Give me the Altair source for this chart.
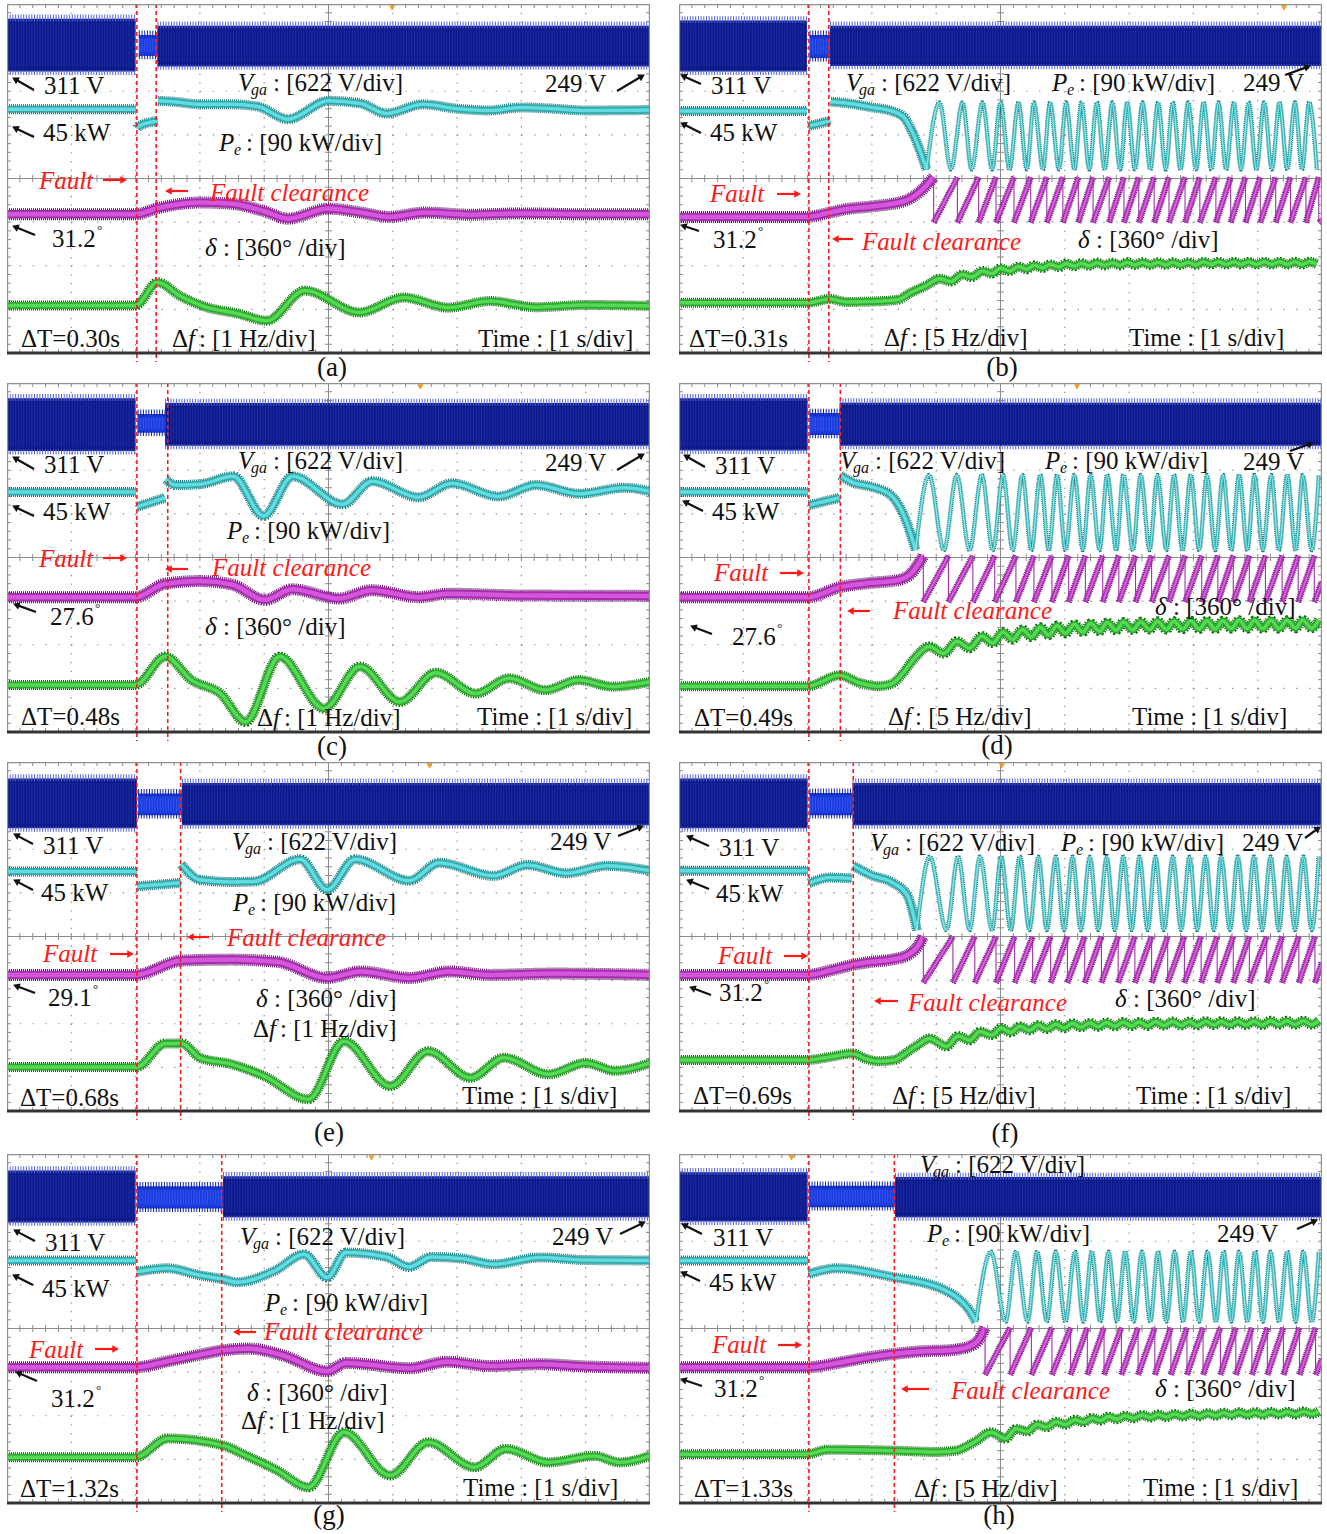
import math
import altair as alt
import pandas as pd

# ------------------------------------------------------------------
# Scope screens: 10 x 8 divisions, time base 1 s/div
# ------------------------------------------------------------------
W, H = 643, 349
XDIV, YDIV = 10, 8
FONT = "Liberation Serif"
RED = "#ff1a1a"
FAULT_T = 2.02

# ---------------- (a) stable, dT = 0.30 s ----------------
A_DT = 0.30
A_DEG = "31.2"
A_CURSOR = 5.99
A_VGA = [(0.00, 2.00, 7.66, 6.45), (2.05, 2.34, 7.29, 6.81), (2.34, 10.00, 7.50, 6.57)]
A_PE = [
    [(0.0, 5.59), (2.0, 5.59)],
    [(2.02, 5.15), (2.05, 5.20), (2.34, 5.32)],
    [(2.35, 5.78), (2.6, 5.76), (3.0, 5.70), (3.5, 5.70), (3.9, 5.65), (4.37, 5.36), (5.0, 5.78),
     (5.5, 5.72), (5.9, 5.49), (6.47, 5.70), (7.0, 5.60), (7.5, 5.56), (8.0, 5.63), (8.5, 5.60),
     (9.0, 5.56), (10.0, 5.57)],
]
A_DELTA = [(0.0, 3.18), (2.0, 3.18), (2.34, 3.32), (3.0, 3.45), (3.5, 3.42), (4.0, 3.25), (4.37, 3.08),
           (5.0, 3.31), (5.5, 3.22), (5.94, 3.12), (6.5, 3.22), (7.2, 3.17), (8.0, 3.20), (9.0, 3.18),
           (10.0, 3.18)]
A_DF = [(0.0, 1.09), (2.0, 1.09), (2.34, 1.62), (2.7, 1.30), (3.06, 1.07), (3.6, 0.90), (4.04, 0.74),
        (4.63, 1.43), (5.48, 0.93), (6.17, 1.27), (6.86, 1.04), (7.51, 1.19), (8.23, 1.05), (9.0, 1.10),
        (10.0, 1.08)]

# ---------------- (b) unstable, dT = 0.31 s ----------------
B_DT = 0.31
B_DEG = "31.2"
B_CURSOR = 9.41
B_VGA = [(0.00, 1.99, 7.62, 6.45), (2.03, 2.35, 7.29, 6.76), (2.35, 10.00, 7.50, 6.58)]
B_PE = [
    [(0.0, 5.55), (1.99, 5.55)],
    [(2.01, 5.20), (2.35, 5.32)],
    [(2.36, 5.76), (2.6, 5.73), (3.0, 5.63), (3.3, 5.55), (3.5, 5.40), (3.65, 5.00), (3.85, 4.21)],
]
B_SWING_T = [3.85, 4.05, 4.23, 4.41, 4.55, 4.72, 4.87, 5.00, 5.14, 5.28,
             5.41, 5.52, 5.66, 5.77, 5.91, 6.02, 6.15, 6.26, 6.38, 6.50,
             6.62, 6.74, 6.86, 6.97, 7.09, 7.21, 7.33, 7.45, 7.57, 7.68,
             7.80, 7.92, 8.04, 8.16, 8.28, 8.39, 8.51, 8.63, 8.74, 8.86,
             8.98, 9.10, 9.22, 9.34, 9.46, 9.58, 9.69, 9.80, 9.92]
B_PE_LEVELS = (5.74, 4.21)
B_DELTA = [(0.0, 3.12), (1.99, 3.12), (2.35, 3.22), (2.6, 3.30), (3.0, 3.36), (3.5, 3.48), (3.75, 3.70),
           (3.96, 4.03)]
B_WRAP_T = [3.96, 4.33, 4.66, 4.93, 5.21, 5.47, 5.72, 5.97, 6.21, 6.44, 6.69, 6.92, 7.15, 7.39,
            7.62, 7.87, 8.10, 8.35, 8.58, 8.81, 9.04, 9.28, 9.51, 9.75, 9.95]
B_DELTA_LEVELS = (4.03, 2.99)
B_DELTA_END = 3.05
B_DF = [(0.0, 1.15), (1.99, 1.15), (2.35, 1.24), (2.6, 1.17), (3.0, 1.18), (3.4, 1.22), (3.6, 1.38)]
B_DF_SWING = [1.55, 1.70, 1.64, 1.80, 1.74, 1.88, 1.82, 1.94, 1.88, 1.98,
              1.92, 2.01, 1.95, 2.03, 1.97, 2.05, 1.99, 2.06, 2.00, 2.07,
              2.01, 2.07, 2.01, 2.08, 2.02, 2.08, 2.02, 2.08, 2.02, 2.08,
              2.02, 2.08, 2.02, 2.09, 2.03, 2.09, 2.03, 2.09, 2.03, 2.09,
              2.03, 2.09, 2.03, 2.09, 2.03, 2.09, 2.03, 2.09, 2.04]

# ---------------- (c) stable, dT = 0.48 s ----------------
C_DT = 0.48
C_DEG = "27.6"
C_CURSOR = 6.43
C_VGA = [(0.00, 2.00, 7.65, 6.44), (2.03, 2.46, 7.29, 6.86), (2.46, 10.00, 7.54, 6.56)]
C_PE = [
    [(0.0, 5.50), (2.0, 5.50)],
    [(2.02, 5.16), (2.46, 5.37)],
    [(2.47, 5.79), (2.62, 5.66), (3.0, 5.68), (3.52, 5.86), (3.99, 4.95), (4.44, 5.86), (5.22, 5.22),
     (5.68, 5.75), (6.40, 5.38), (6.92, 5.70), (7.64, 5.40), (8.23, 5.66), (8.9, 5.46), (9.6, 5.60),
     (10.0, 5.52)],
]
C_DELTA = [(0.0, 3.09), (2.0, 3.09), (2.46, 3.40), (3.0, 3.46), (3.5, 3.38), (4.01, 3.03), (4.44, 3.27),
           (5.16, 3.06), (5.68, 3.25), (6.4, 3.09), (6.86, 3.17), (8.0, 3.13), (10.0, 3.12)]
C_DF = [(0.0, 1.08), (2.0, 1.08), (2.46, 1.73), (2.87, 1.19), (3.32, 0.88), (3.71, 0.23), (4.24, 1.73),
        (4.93, 0.54), (5.49, 1.50), (6.11, 0.69), (6.67, 1.36), (7.29, 0.88), (7.81, 1.23), (8.37, 0.96),
        (8.89, 1.19), (9.42, 1.04), (10.0, 1.15)]

# ---------------- (d) unstable, dT = 0.49 s ----------------
D_DT = 0.49
D_DEG = "27.6"
D_CURSOR = 6.19
D_VGA = [(0.00, 2.00, 7.65, 6.45), (2.03, 2.50, 7.31, 6.81), (2.50, 10.00, 7.55, 6.56)]
D_PE = [
    [(0.0, 5.50), (2.0, 5.50)],
    [(2.02, 5.20), (2.5, 5.37)],
    [(2.51, 5.88), (2.7, 5.72), (3.0, 5.62), (3.3, 5.42), (3.53, 4.85), (3.68, 4.17)],
]
D_SWING_T = [3.68, 3.89, 4.12, 4.32, 4.52, 4.71, 4.88, 5.04, 5.19, 5.34,
             5.48, 5.62, 5.75, 5.88, 6.01, 6.15, 6.28, 6.40, 6.54, 6.66,
             6.80, 6.91, 7.06, 7.18, 7.32, 7.44, 7.58, 7.70, 7.83, 7.96,
             8.09, 8.21, 8.34, 8.46, 8.59, 8.71, 8.84, 8.95, 9.08, 9.21,
             9.33, 9.46, 9.59, 9.70, 9.84, 9.95]
D_PE_LEVELS = (5.89, 4.17)
D_DELTA = [(0.0, 3.09), (2.0, 3.09), (2.5, 3.32), (3.0, 3.42), (3.4, 3.48), (3.62, 3.65), (3.80, 4.04)]
D_WRAP_T = [3.80, 4.19, 4.57, 4.91, 5.24, 5.52, 5.80, 6.06, 6.32, 6.59, 6.84, 7.10, 7.35, 7.62,
            7.87, 8.13, 8.38, 8.62, 8.87, 9.12, 9.38, 9.63, 9.88]
D_DELTA_LEVELS = (4.04, 2.98)
D_DELTA_END = 3.45
D_DF = [(0.0, 1.05), (2.0, 1.05), (2.5, 1.30), (2.8, 1.13), (3.1, 1.05), (3.3, 1.10), (3.5, 1.38),
        (3.6, 1.58)]
D_DF_SWING = [1.72, 1.96, 1.80, 2.08, 1.92, 2.20, 2.04, 2.29, 2.12, 2.35,
              2.18, 2.40, 2.22, 2.44, 2.26, 2.47, 2.29, 2.49, 2.31, 2.51,
              2.33, 2.52, 2.34, 2.53, 2.35, 2.54, 2.35, 2.54, 2.36, 2.55,
              2.36, 2.55, 2.36, 2.55, 2.37, 2.56, 2.37, 2.56, 2.37, 2.56,
              2.37, 2.56, 2.38, 2.57, 2.38, 2.57]

# ---------------- (e) stable, dT = 0.68 s ----------------
E_DT = 0.68
E_DEG = "29.1"
E_CURSOR = 6.57
E_VGA = [(0.00, 2.02, 7.62, 6.48), (2.04, 2.72, 7.28, 6.78), (2.72, 10.00, 7.52, 6.55)]
E_PE = [
    [(0.0, 5.49), (2.02, 5.49)],
    [(2.03, 5.15), (2.7, 5.23)],
    [(2.71, 5.65), (3.0, 5.30), (3.5, 5.25), (3.84, 5.26), (4.56, 5.77), (4.98, 5.07), (5.41, 5.77),
     (6.26, 5.28), (6.72, 5.69), (7.57, 5.39), (8.09, 5.64), (8.7, 5.45), (9.33, 5.62), (10.0, 5.51)],
]
E_DELTA = [(0.0, 3.12), (2.0, 3.12), (2.72, 3.45), (3.5, 3.47), (4.2, 3.42), (4.98, 3.05), (5.5, 3.20),
           (6.26, 3.05), (6.88, 3.20), (7.5, 3.12), (8.5, 3.15), (10.0, 3.12)]
E_DF = [(0.0, 1.01), (2.02, 1.01), (2.46, 1.55), (2.72, 1.55), (3.0, 1.22), (3.5, 1.07), (4.0, 0.80),
        (4.69, 0.27), (5.24, 1.60), (5.96, 0.57), (6.55, 1.37), (7.21, 0.76), (7.73, 1.22), (8.42, 0.84),
        (9.0, 1.10), (9.46, 0.92), (10.0, 1.10)]

# ---------------- (f) unstable, dT = 0.69 s ----------------
F_DT = 0.69
F_DEG = "31.2"
F_CURSOR = 5.02
F_VGA = [(0.00, 2.00, 7.62, 6.48), (2.03, 2.70, 7.29, 6.78), (2.70, 10.00, 7.52, 6.55)]
F_PE = [
    [(0.0, 5.51), (2.0, 5.51)],
    [(2.02, 5.22), (2.35, 5.35), (2.69, 5.33)],
    [(2.71, 5.62), (3.0, 5.40), (3.3, 5.25), (3.55, 4.95), (3.70, 4.15)],
]
F_SWING_T = [3.70, 3.90, 4.16, 4.34, 4.52, 4.68, 4.87, 5.01, 5.16, 5.30,
             5.45, 5.59, 5.72, 5.86, 5.99, 6.12, 6.25, 6.39, 6.52, 6.65,
             6.78, 6.91, 7.04, 7.16, 7.29, 7.41, 7.54, 7.68, 7.81, 7.94,
             8.06, 8.19, 8.32, 8.43, 8.57, 8.69, 8.82, 8.94, 9.07, 9.20,
             9.33, 9.45, 9.58, 9.71, 9.84, 9.95]
F_PE_LEVELS = (5.83, 4.15)
F_DELTA = [(0.0, 3.12), (2.0, 3.12), (2.35, 3.22), (2.7, 3.35), (3.0, 3.42), (3.3, 3.47), (3.55, 3.57),
           (3.7, 3.75), (3.80, 4.00)]
F_WRAP_T = [3.80, 4.26, 4.60, 4.93, 5.22, 5.50, 5.78, 6.04, 6.31, 6.57, 6.83, 7.09, 7.35, 7.60,
            7.86, 8.12, 8.37, 8.62, 8.87, 9.14, 9.38, 9.64, 9.89]
F_DELTA_LEVELS = (4.00, 2.94)
F_DELTA_END = 3.40
F_DF = [(0.0, 1.17), (2.0, 1.17), (2.35, 1.24), (2.7, 1.32), (2.9, 1.20), (3.1, 1.14), (3.35, 1.17),
        (3.55, 1.35)]
F_DF_SWING = [1.50, 1.66, 1.48, 1.72, 1.62, 1.82, 1.74, 1.90, 1.80, 1.94,
              1.85, 1.97, 1.88, 1.99, 1.90, 2.01, 1.92, 2.02, 1.93, 2.03,
              1.94, 2.04, 1.95, 2.04, 1.95, 2.05, 1.96, 2.05, 1.96, 2.05,
              1.96, 2.06, 1.97, 2.06, 1.97, 2.06, 1.97, 2.06, 1.97, 2.07,
              1.98, 2.07, 1.98, 2.07, 1.98, 2.07]

# ---------------- (g) stable, dT = 1.32 s ----------------
G_DT = 1.32
G_DEG = "31.2"
G_CURSOR = 5.67
G_VGA = [(0.00, 2.00, 7.62, 6.43), (2.02, 3.36, 7.26, 6.75), (3.36, 10.00, 7.49, 6.55)]
G_PE = [
    [(0.0, 5.56), (2.0, 5.56)],
    [(2.02, 5.30), (2.5, 5.38), (3.0, 5.22), (3.36, 5.13), (3.57, 5.06), (4.16, 5.32), (4.62, 5.70),
     (4.98, 5.17), (5.27, 5.74), (5.9, 5.64), (6.25, 5.41), (6.6, 5.64), (7.1, 5.60), (7.56, 5.47),
     (8.29, 5.63), (9.0, 5.57), (10.0, 5.56)],
]
G_DELTA = [(0.0, 3.11), (2.0, 3.11), (2.5, 3.25), (3.0, 3.40), (3.36, 3.50), (3.77, 3.54), (4.3, 3.38),
           (4.98, 3.02), (5.27, 3.21), (6.26, 3.09), (6.85, 3.24), (7.5, 3.14), (8.3, 3.18), (9.0, 3.13),
           (10.0, 3.10)]
G_DF = [(0.0, 1.05), (2.0, 1.05), (2.5, 1.48), (3.36, 1.32), (3.7, 1.10), (4.2, 0.75), (4.69, 0.36),
        (5.24, 1.62), (5.96, 0.63), (6.55, 1.39), (7.27, 0.82), (7.76, 1.24), (8.42, 0.93), (9.14, 1.08),
        (9.53, 0.93), (10.0, 1.08)]

# ---------------- (h) unstable, dT = 1.33 s ----------------
H_DT = 1.33
H_DEG = "31.2"
H_CURSOR = 1.75
H_VGA = [(0.00, 2.00, 7.58, 6.45), (2.02, 3.36, 7.27, 6.78), (3.36, 10.00, 7.47, 6.55)]
H_PE = [
    [(0.0, 5.56), (2.0, 5.56)],
    [(2.02, 5.25), (2.46, 5.38), (3.36, 5.17), (3.77, 5.06), (4.09, 4.91), (4.35, 4.68), (4.52, 4.41),
     (4.62, 4.16)],
]
H_SWING_T = [4.62, 4.85, 5.08, 5.24, 5.42, 5.57, 5.72, 5.86, 6.01, 6.16,
             6.29, 6.42, 6.55, 6.68, 6.81, 6.94, 7.07, 7.20, 7.33, 7.45,
             7.58, 7.71, 7.84, 7.96, 8.09, 8.22, 8.35, 8.47, 8.59, 8.71,
             8.84, 8.96, 9.08, 9.20, 9.33, 9.46, 9.59, 9.71, 9.84, 9.95]
H_PE_LEVELS = (5.76, 4.16)
H_DELTA = [(0.0, 3.11), (2.0, 3.11), (2.5, 3.22), (3.0, 3.35), (3.36, 3.42), (3.8, 3.48), (4.2, 3.50),
           (4.5, 3.58), (4.65, 3.72), (4.76, 4.02)]
H_WRAP_T = [4.76, 5.15, 5.48, 5.80, 6.09, 6.35, 6.61, 6.88, 7.14, 7.40, 7.65, 7.90, 8.15, 8.42,
            8.66, 8.91, 9.15, 9.40, 9.65, 9.90]
H_DELTA_LEVELS = (4.02, 2.94)
H_DELTA_END = 3.30
H_DF = [(0.0, 1.12), (2.0, 1.12), (2.3, 1.22), (3.36, 1.20), (4.0, 1.17), (4.3, 1.20), (4.5, 1.32)]
H_DF_SWING = [1.42, 1.62, 1.48, 1.70, 1.64, 1.80, 1.74, 1.86, 1.80, 1.91,
              1.85, 1.95, 1.89, 1.98, 1.92, 2.00, 1.94, 2.02, 1.96, 2.03,
              1.97, 2.04, 1.98, 2.05, 1.99, 2.06, 2.00, 2.07, 2.01, 2.08,
              2.02, 2.08, 2.02, 2.09, 2.03, 2.09, 2.03, 2.10, 2.04, 2.10]

PANELS = {
    "a": dict(dt=A_DT, deg=A_DEG, df_scale="1 Hz", cursor=A_CURSOR, vga=A_VGA, pe=A_PE,
              delta=A_DELTA, df=A_DF),
    "b": dict(dt=B_DT, deg=B_DEG, df_scale="5 Hz", cursor=B_CURSOR, vga=B_VGA, pe=B_PE,
              swing_t=B_SWING_T, pe_levels=B_PE_LEVELS, delta=B_DELTA, wrap_t=B_WRAP_T,
              delta_levels=B_DELTA_LEVELS, delta_end=B_DELTA_END, df=B_DF, df_swing=B_DF_SWING),
    "c": dict(dt=C_DT, deg=C_DEG, df_scale="1 Hz", cursor=C_CURSOR, vga=C_VGA, pe=C_PE,
              delta=C_DELTA, df=C_DF),
    "d": dict(dt=D_DT, deg=D_DEG, df_scale="5 Hz", cursor=D_CURSOR, vga=D_VGA, pe=D_PE,
              swing_t=D_SWING_T, pe_levels=D_PE_LEVELS, delta=D_DELTA, wrap_t=D_WRAP_T,
              delta_levels=D_DELTA_LEVELS, delta_end=D_DELTA_END, df=D_DF, df_swing=D_DF_SWING),
    "e": dict(dt=E_DT, deg=E_DEG, df_scale="1 Hz", cursor=E_CURSOR, vga=E_VGA, pe=E_PE,
              delta=E_DELTA, df=E_DF),
    "f": dict(dt=F_DT, deg=F_DEG, df_scale="5 Hz", cursor=F_CURSOR, vga=F_VGA, pe=F_PE,
              swing_t=F_SWING_T, pe_levels=F_PE_LEVELS, delta=F_DELTA, wrap_t=F_WRAP_T,
              delta_levels=F_DELTA_LEVELS, delta_end=F_DELTA_END, df=F_DF, df_swing=F_DF_SWING),
    "g": dict(dt=G_DT, deg=G_DEG, df_scale="1 Hz", cursor=G_CURSOR, vga=G_VGA, pe=G_PE,
              delta=G_DELTA, df=G_DF),
    "h": dict(dt=H_DT, deg=H_DEG, df_scale="5 Hz", cursor=H_CURSOR, vga=H_VGA, pe=H_PE,
              swing_t=H_SWING_T, pe_levels=H_PE_LEVELS, delta=H_DELTA, wrap_t=H_WRAP_T,
              delta_levels=H_DELTA_LEVELS, delta_end=H_DELTA_END, df=H_DF, df_swing=H_DF_SWING),
}

# Annotation placement inside each screen (pixels from the screen's top-left corner)
K, R = "#111111", RED
LAYOUT = {
    "a": dict(v311=(37, 82), kw45=(36, 129), deg=(45, 235), v249=(538, 80), vga=(231, 79), pe=(212, 139),
              fault=(32, 177), clear=(203, 189), delta=(198, 244), dt=(14, 335), df=(165, 335),
              time=(471, 335), tag=(325, 364),
              arrows=[((27, 86), (6, 74), K), ((27, 133), (6, 123), K), ((28, 231), (6, 222), K),
                      ((610, 87), (637, 71), K), ((96, 176), (119, 176), R), ((181, 187), (159, 187), R)]),
    "b": dict(v311=(32, 82), kw45=(31, 129), deg=(34, 236), v249=(564, 79), vga=(167, 79), pe=(373, 79),
              fault=(31, 190), clear=(183, 238), delta=(399, 236), dt=(10, 335), df=(205, 334),
              time=(450, 334), tag=(323, 364),
              arrows=[((22, 80), (2, 71), K), ((22, 129), (2, 119), K), ((20, 227), (2, 221), K),
                      ((606, 71), (631, 62), K), ((98, 190), (121, 190), R), ((174, 235), (154, 235), R)]),
    "c": dict(v311=(37, 82), kw45=(36, 129), deg=(43, 234), v249=(538, 80), vga=(231, 78), pe=(220, 148),
              fault=(32, 176), clear=(205, 185), delta=(198, 244), dt=(14, 334), df=(250, 335),
              time=(470, 334), tag=(325, 364),
              arrows=[((27, 86), (6, 74), K), ((27, 133), (6, 123), K), ((29, 229), (7, 221), K),
                      ((610, 87), (637, 71), K), ((96, 175), (119, 175), R), ((181, 186), (159, 186), R)]),
    "d": dict(v311=(36, 83), kw45=(33, 129), deg=(53, 254), v249=(564, 79), vga=(161, 78), pe=(366, 78),
              fault=(35, 190), clear=(214, 228), delta=(476, 224), dt=(15, 335), df=(209, 334),
              time=(453, 334), tag=(318, 363),
              arrows=[((26, 84), (5, 72), K), ((24, 128), (4, 118), K), ((33, 251), (12, 243), K),
                      ((611, 68), (634, 60), K), ((101, 190), (124, 190), R), ((191, 228), (169, 228), R)]),
    "e": dict(v311=(36, 84), kw45=(34, 131), deg=(41, 236), v249=(543, 80), vga=(225, 80), pe=(226, 141),
              fault=(36, 192), clear=(220, 176), delta=(249, 237), dt=(13, 336), df=(246, 267),
              time=(455, 334), tag=(322, 371),
              arrows=[((26, 82), (7, 72), K), ((26, 128), (7, 118), K), ((28, 231), (7, 223), K),
                      ((611, 74), (636, 64), K), ((103, 192), (126, 192), R), ((202, 175), (181, 175), R)]),
    "f": dict(v311=(40, 86), kw45=(37, 132), deg=(40, 231), v249=(563, 81), vga=(191, 81), pe=(382, 81),
              fault=(39, 194), clear=(229, 241), delta=(436, 237), dt=(14, 334), df=(213, 334),
              time=(457, 334), tag=(326, 372),
              arrows=[((30, 84), (8, 74), K), ((30, 127), (8, 118), K), ((32, 233), (11, 225), K),
                      ((626, 76), (641, 65), K), ((105, 194), (128, 194), R), ((219, 239), (196, 239), R)]),
    "g": dict(v311=(38, 89), kw45=(35, 135), deg=(44, 245), v249=(545, 83), vga=(233, 83), pe=(258, 149),
              fault=(22, 196), clear=(257, 178), delta=(240, 239), dt=(13, 335), df=(234, 267),
              time=(456, 334), tag=(322, 362),
              arrows=[((28, 87), (7, 76), K), ((26, 131), (6, 121), K), ((30, 227), (9, 218), K),
                      ((613, 80), (638, 68), K), ((88, 195), (111, 195), R), ((249, 178), (227, 178), R)]),
    "h": dict(v311=(34, 84), kw45=(30, 129), deg=(35, 235), v249=(538, 80), vga=(241, 11), pe=(248, 80),
              fault=(33, 191), clear=(272, 237), delta=(476, 235), dt=(15, 335), df=(235, 335),
              time=(464, 334), tag=(320, 362),
              arrows=[((23, 80), (3, 70), K), ((21, 127), (2, 118), K), ((23, 232), (2, 225), K),
                      ((618, 75), (638, 66), K), ((99, 191), (122, 191), R), ((250, 235), (223, 235), R)]),
}

# ---------------- styles ----------------
GRID_C = "#8c8c8c"
STYLE = {
    "pe":     dict(ow=10, oc="#1c7276", mw=7.0, mc="#2ea9ad", cw=3.5, cc="#62dcdf"),
    "pe_osc": dict(ow=4.5, oc="#1c7276", mw=3.0, mc="#36b4b8", cw=1.4, cc="#86e8ea"),
    "delta":  dict(ow=12, oc="#5e1265", mw=8.5, mc="#a82cb0", cw=4.5, cc="#d456da"),
    "tooth":  dict(ow=6.5, oc="#5e1265", mw=4.5, mc="#a82cb0", cw=2.0, cc="#d85ede"),
    "df":     dict(ow=10, oc="#136613", mw=7.0, mc="#28ad28", cw=3.5, cc="#58d858"),
}
VGA = {  # body, stripe texture, spiky fringe
    "normal": ("#0d1a8a", "#1b2ba2", "#5363db"),
    "fault": ("#1a3cdc", "#3456f0", "#0f22a0"),
}

GRID_T = [1, 2, 3, 4, 6, 7, 8, 9]
GRID_Y = [1, 2, 3, 5, 6, 7]
MINOR_T = [i / 5 for i in range(1, XDIV * 5)]
MINOR_Y = [i / 5 for i in range(1, YDIV * 5)]
X = alt.Scale(domain=[0, XDIV], nice=False, zero=False)


def px_t(px):
    return px * XDIV / W


def py_y(py):
    return YDIV - py * YDIV / H


def trace_table(p):
    rows = []

    def add(kind, key, pts):
        for t, y in pts:
            rows.append(dict(t=t, y=y, key=key, **STYLE[kind]))

    for i, seg in enumerate(p["pe"]):
        add("pe", f"pe{i}", seg)
    add("delta", "delta", p["delta"])
    df_pts = list(p["df"])
    drops = []
    if "swing_t" in p:
        hi, lo = p["pe_levels"]
        add("pe_osc", "pe_osc", [(t, lo if i % 2 == 0 else hi) for i, t in enumerate(p["swing_t"])])
        dhi, dlo = p["delta_levels"]
        wt = p["wrap_t"]
        for i in range(len(wt) - 1):
            add("tooth", f"tooth{i}", [(wt[i], dlo), (wt[i + 1], dhi)])
        add("tooth", "tooth_end", [(wt[-1], dlo), (XDIV, p["delta_end"])])
        drops = [dict(t=t, hi=dhi, lo=dlo) for t in wt]
        df_pts += list(zip(p["swing_t"], p["df_swing"]))
    add("df", "df", df_pts)
    return pd.DataFrame(rows), pd.DataFrame(drops)


def label_tables(p, lay):
    normal, italic = [], []

    def put(bucket, txt, px, py, size=25, color=K):
        bucket.append(dict(t=px_t(px), y=py_y(py), text=txt, size=size, color=color))

    x, y = lay["v311"]; put(normal, "311 V", x, y)
    x, y = lay["kw45"]; put(normal, "45 kW", x, y)
    x, y = lay["v249"]; put(normal, "249 V", x, y)
    x, y = lay["deg"]; put(normal, p["deg"], x, y); put(normal, "°", x + 45, y - 9, 13)
    x, y = lay["vga"]
    put(italic, "V", x, y); put(italic, "ga", x + 13, y + 7, 16); put(normal, ": [622 V/div]", x + 35, y)
    x, y = lay["pe"]
    put(italic, "P", x, y); put(italic, "e", x + 15, y + 7, 16); put(normal, ": [90 kW/div]", x + 27, y)
    x, y = lay["delta"]
    put(italic, "δ", x, y); put(normal, ": [360° /div]", x + 18, y)
    x, y = lay["df"]
    put(normal, "Δ", x, y); put(italic, "f", x + 16, y); put(normal, f": [{p['df_scale']}/div]", x + 27, y)
    x, y = lay["time"]; put(normal, "Time : [1 s/div]", x, y)
    x, y = lay["dt"]; put(normal, f"ΔT={p['dt']:.2f}s", x, y)
    x, y = lay["fault"]; put(italic, "Fault", x, y, 25, RED)
    x, y = lay["clear"]; put(italic, "Fault clearance", x, y, 25, RED)
    return pd.DataFrame(normal), pd.DataFrame(italic)


def arrow_tables(lay):
    shafts, heads = [], []
    for (x1, y1), (x2, y2), col in lay["arrows"]:
        dx, dy = x2 - x1, y2 - y1
        n = math.hypot(dx, dy)
        ux, uy = dx / n, dy / n
        ang = math.degrees(math.atan2(dx, -dy)) % 360
        shafts.append(dict(t=px_t(x1), y=py_y(y1), t2=px_t(x2 - 4 * ux), y2=py_y(y2 - 4 * uy), color=col))
        heads.append(dict(t=px_t(x2 - 3.5 * ux), y=py_y(y2 - 3.5 * uy), angle=ang, color=col))
    return pd.DataFrame(shafts), pd.DataFrame(heads)


def screen(name, off=0):
    """One scope screen; `off` pushes the screen down inside its cell (pixels)."""
    p, lay = PANELS[name], LAYOUT[name]
    Y = alt.Scale(domain=[0, YDIV], nice=False, zero=False, range=[off + H, off])

    def xq(f="t"):
        return alt.X(f"{f}:Q", scale=X, axis=None)

    def yq(f="y"):
        return alt.Y(f"{f}:Q", scale=Y, axis=None)

    top, bot, mid = off, off + H, off + H / 2
    layers = []

    # graticule
    layers.append(alt.Chart(pd.DataFrame({"t": GRID_T})).mark_rule(
        color=GRID_C, strokeWidth=1.2, strokeDash=[1.3, 7.42], clip=True).encode(
        x=xq(), y=alt.value(top), y2=alt.value(bot)))
    layers.append(alt.Chart(pd.DataFrame({"y": GRID_Y})).mark_rule(
        color=GRID_C, strokeWidth=1.2, strokeDash=[1.3, 11.56], clip=True).encode(
        y=yq(), x=alt.value(0), x2=alt.value(W)))
    layers.append(alt.Chart(pd.DataFrame({"t": [XDIV / 2]})).mark_rule(color=GRID_C, strokeWidth=1, clip=True).encode(
        x=xq(), y=alt.value(top), y2=alt.value(bot)))
    layers.append(alt.Chart(pd.DataFrame({"y": [YDIV / 2]})).mark_rule(color=GRID_C, strokeWidth=1, clip=True).encode(
        y=yq(), x=alt.value(0), x2=alt.value(W)))
    mt = pd.DataFrame({"t": MINOR_T})
    my = pd.DataFrame({"y": MINOR_Y})
    for a, b in ((mid - 3.5, mid + 3.5), (top, top + 4), (bot - 4, bot)):
        layers.append(alt.Chart(mt).mark_rule(color=GRID_C, strokeWidth=1, clip=True).encode(
            x=xq(), y=alt.value(a), y2=alt.value(b)))
    for a, b in ((W / 2 - 3.5, W / 2 + 3.5), (0, 4), (W - 4, W)):
        layers.append(alt.Chart(my).mark_rule(color=GRID_C, strokeWidth=1, clip=True).encode(
            y=yq(), x=alt.value(a), x2=alt.value(b)))

    # grid voltage envelope: body, fine vertical texture and spiky edges
    vrows, frows = [], []
    ppd = H / YDIV
    for i, (t0, t1, vt, vb) in enumerate(p["vga"]):
        body, stripe, fringe = VGA["fault" if i == 1 else "normal"]
        vrows.append(dict(t=t0, t1=t1, y=vt, y1=vb, color=body))
        frows.append(dict(t=t0, t1=t1, y=(vt + vb) / 2, w=(vt - vb) * ppd - 8, color=stripe))
        frows.append(dict(t=t0, t1=t1, y=vt + 0.02, w=7, color=fringe))
        frows.append(dict(t=t0, t1=t1, y=vb - 0.02, w=5, color=fringe))
    layers.append(alt.Chart(pd.DataFrame(vrows)).mark_rect(clip=True).encode(
        x=xq(), x2="t1:Q", y=yq(), y2="y1:Q", color=alt.Color("color:N", scale=None)))
    layers.append(alt.Chart(pd.DataFrame(frows)).mark_rule(strokeDash=[1, 1.7], clip=True).encode(
        x=xq(), x2="t1:Q", y=yq(), color=alt.Color("color:N", scale=None),
        strokeWidth=alt.StrokeWidth("w:Q", scale=None)))

    # Pe, delta and delta-f traces
    tr, drops = trace_table(p)
    base = alt.Chart(tr)
    for w, c, extra in (("ow", "oc", dict(strokeDash=[1, 1])), ("mw", "mc", {}), ("cw", "cc", {})):
        layers.append(base.mark_line(interpolate="monotone", clip=True, strokeJoin="round", **extra).encode(
            x=xq(), y=yq(), detail="key:N",
            color=alt.Color(f"{c}:N", scale=None),
            strokeWidth=alt.StrokeWidth(f"{w}:Q", scale=None)))
    if len(drops):
        layers.append(alt.Chart(drops).mark_rule(color="#a030a8", strokeWidth=1.1, clip=True).encode(
            x=xq(), y=yq("hi"), y2="lo:Q"))

    # fault / clearance instants
    layers.append(alt.Chart(pd.DataFrame({"t": [FAULT_T, FAULT_T + p["dt"]]})).mark_rule(
        color=RED, strokeWidth=1.6, strokeDash=[4, 3]).encode(x=xq(), y=alt.value(top), y2=alt.value(bot + 9)))

    # trigger cursor
    layers.append(alt.Chart(pd.DataFrame({"t": [p["cursor"]]})).mark_point(
        shape="triangle-down", filled=True, color="#f0a020", size=40, opacity=1).encode(
        x=xq(), y=alt.value(top + 4)))

    # text
    normal, italic = label_tables(p, lay)
    for df_, style in ((normal, {}), (italic, dict(fontStyle="italic"))):
        layers.append(alt.Chart(df_).mark_text(align="left", baseline="middle", font=FONT, **style).encode(
            x=xq(), y=yq(), text="text:N", size=alt.Size("size:Q", scale=None),
            color=alt.Color("color:N", scale=None)))
    tx, ty = lay["tag"]
    layers.append(alt.Chart(pd.DataFrame([dict(t=px_t(tx), y=py_y(ty), text=f"({name})")])).mark_text(
        align="center", baseline="middle", font=FONT, fontSize=27, color=K).encode(
        x=xq(), y=yq(), text="text:N"))

    # arrows
    shafts, heads = arrow_tables(lay)
    layers.append(alt.Chart(shafts).mark_rule(strokeWidth=2.2).encode(
        x=xq(), y=yq(), x2="t2:Q", y2="y2:Q", color=alt.Color("color:N", scale=None)))
    layers.append(alt.Chart(heads).mark_point(shape="triangle", filled=True, size=60, opacity=1).encode(
        x=xq(), y=yq(), angle=alt.Angle("angle:Q", scale=None), color=alt.Color("color:N", scale=None)))

    # screen frame, heavier along the lower edge
    frame = alt.Chart(pd.DataFrame({"t": [0]}))
    layers.append(frame.mark_rule(color="#909090", strokeWidth=1.2, clip=True).encode(
        x=alt.value(0), x2=alt.value(W), y=alt.value(top + 0.6)))
    layers.append(frame.mark_rule(color="#909090", strokeWidth=1.2, clip=True).encode(
        x=alt.value(0.6), y=alt.value(top), y2=alt.value(bot)))
    layers.append(frame.mark_rule(color="#909090", strokeWidth=1.2, clip=True).encode(
        x=alt.value(W - 0.6), y=alt.value(top), y2=alt.value(bot)))
    layers.append(frame.mark_rule(color="#333333", strokeWidth=3).encode(
        x=alt.value(0), x2=alt.value(W), y=alt.value(bot)))

    return alt.layer(*layers).properties(width=W, height=H + off)


# the last row sits a little lower than the even row pitch of the first three
screens = [screen(n) for n in "abcdef"] + [screen("g", 13), screen("h", 13)]
chart = alt.concat(*screens, columns=2, spacing={"row": 30, "column": 29}, bounds="flush").properties(
    padding={"left": 5, "top": 3, "right": 2, "bottom": 2},
    background="white",
).configure_view(strokeWidth=0)

chart.save("out.html", embed_options={"renderer": "svg", "actions": False})
